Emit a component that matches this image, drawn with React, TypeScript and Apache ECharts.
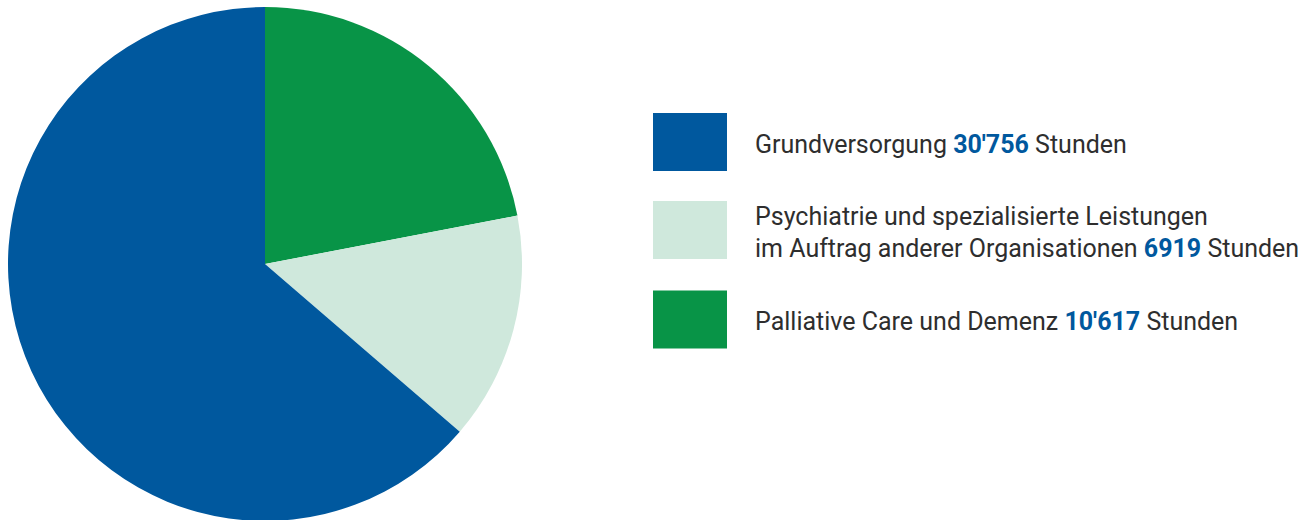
import React, { useEffect, useRef } from "react";
import * as echarts from "echarts";

const categories = [
  "Palliative Care und Demenz",
  "Psychiatrie und spezialisierte Leistungen",
  "Grundversorgung",
];
const values = [10617, 6919, 30756];
const valueLabels = ["10'617", "6919", "30'756"];
const legendPrefix = [
  "Palliative Care und Demenz ",
  "Psychiatrie und spezialisierte Leistungen\nim Auftrag anderer Organisationen ",
  "Grundversorgung ",
];
const colors = ["#089447", "#cfe8dc", "#00589e"];
const legendOrder = [
  "Grundversorgung",
  "Psychiatrie und spezialisierte Leistungen",
  "Palliative Care und Demenz",
];

export default function App() {
  const ref = useRef<HTMLDivElement>(null);
  useEffect(() => {
    const chart = echarts.init(ref.current!, undefined, { renderer: "svg" });
    chart.setOption({
      animation: false,
      legend: {
        orient: "vertical",
        left: 653,
        top: 113,
        padding: 0,
        itemWidth: 74,
        itemHeight: 58,
        itemGap: 30,
        icon: "rect",
        selectedMode: false,
        data: legendOrder,
        formatter: (name: string) => {
          const i = categories.indexOf(name);
          const parts = legendPrefix[i].split("\n");
          const last = parts.pop()!;
          const head = parts.map((p) => `{t|${p}}\n`).join("");
          return `${head}{t|${last}}{b|${valueLabels[i]}}{t| Stunden}`;
        },
        textStyle: {
          padding: [4, 0, 0, 23],
          rich: {
            t: {
              fontFamily: "Roboto",
              fontSize: 25,
              color: "#2e2e2e",
              lineHeight: 32,
            },
            b: {
              fontFamily: "Roboto",
              fontSize: 25,
              fontWeight: "bold",
              color: "#00589e",
              lineHeight: 32,
            },
          },
        },
      },
      series: [
        {
          type: "pie",
          center: [265, 264],
          radius: [0, 257],
          startAngle: 90,
          clockwise: true,
          label: { show: false },
          labelLine: { show: false },
          emphasis: { disabled: true },
          itemStyle: { borderWidth: 0 },
          data: categories.map((c, i) => ({
            name: c,
            value: values[i],
            itemStyle: { color: colors[i] },
          })),
        },
      ],
    });
    return () => chart.dispose();
  }, []);
  return (
    <div
      ref={ref}
      style={{ position: "absolute", left: 0, top: 0, width: 1312, height: 520 }}
    />
  );
}
